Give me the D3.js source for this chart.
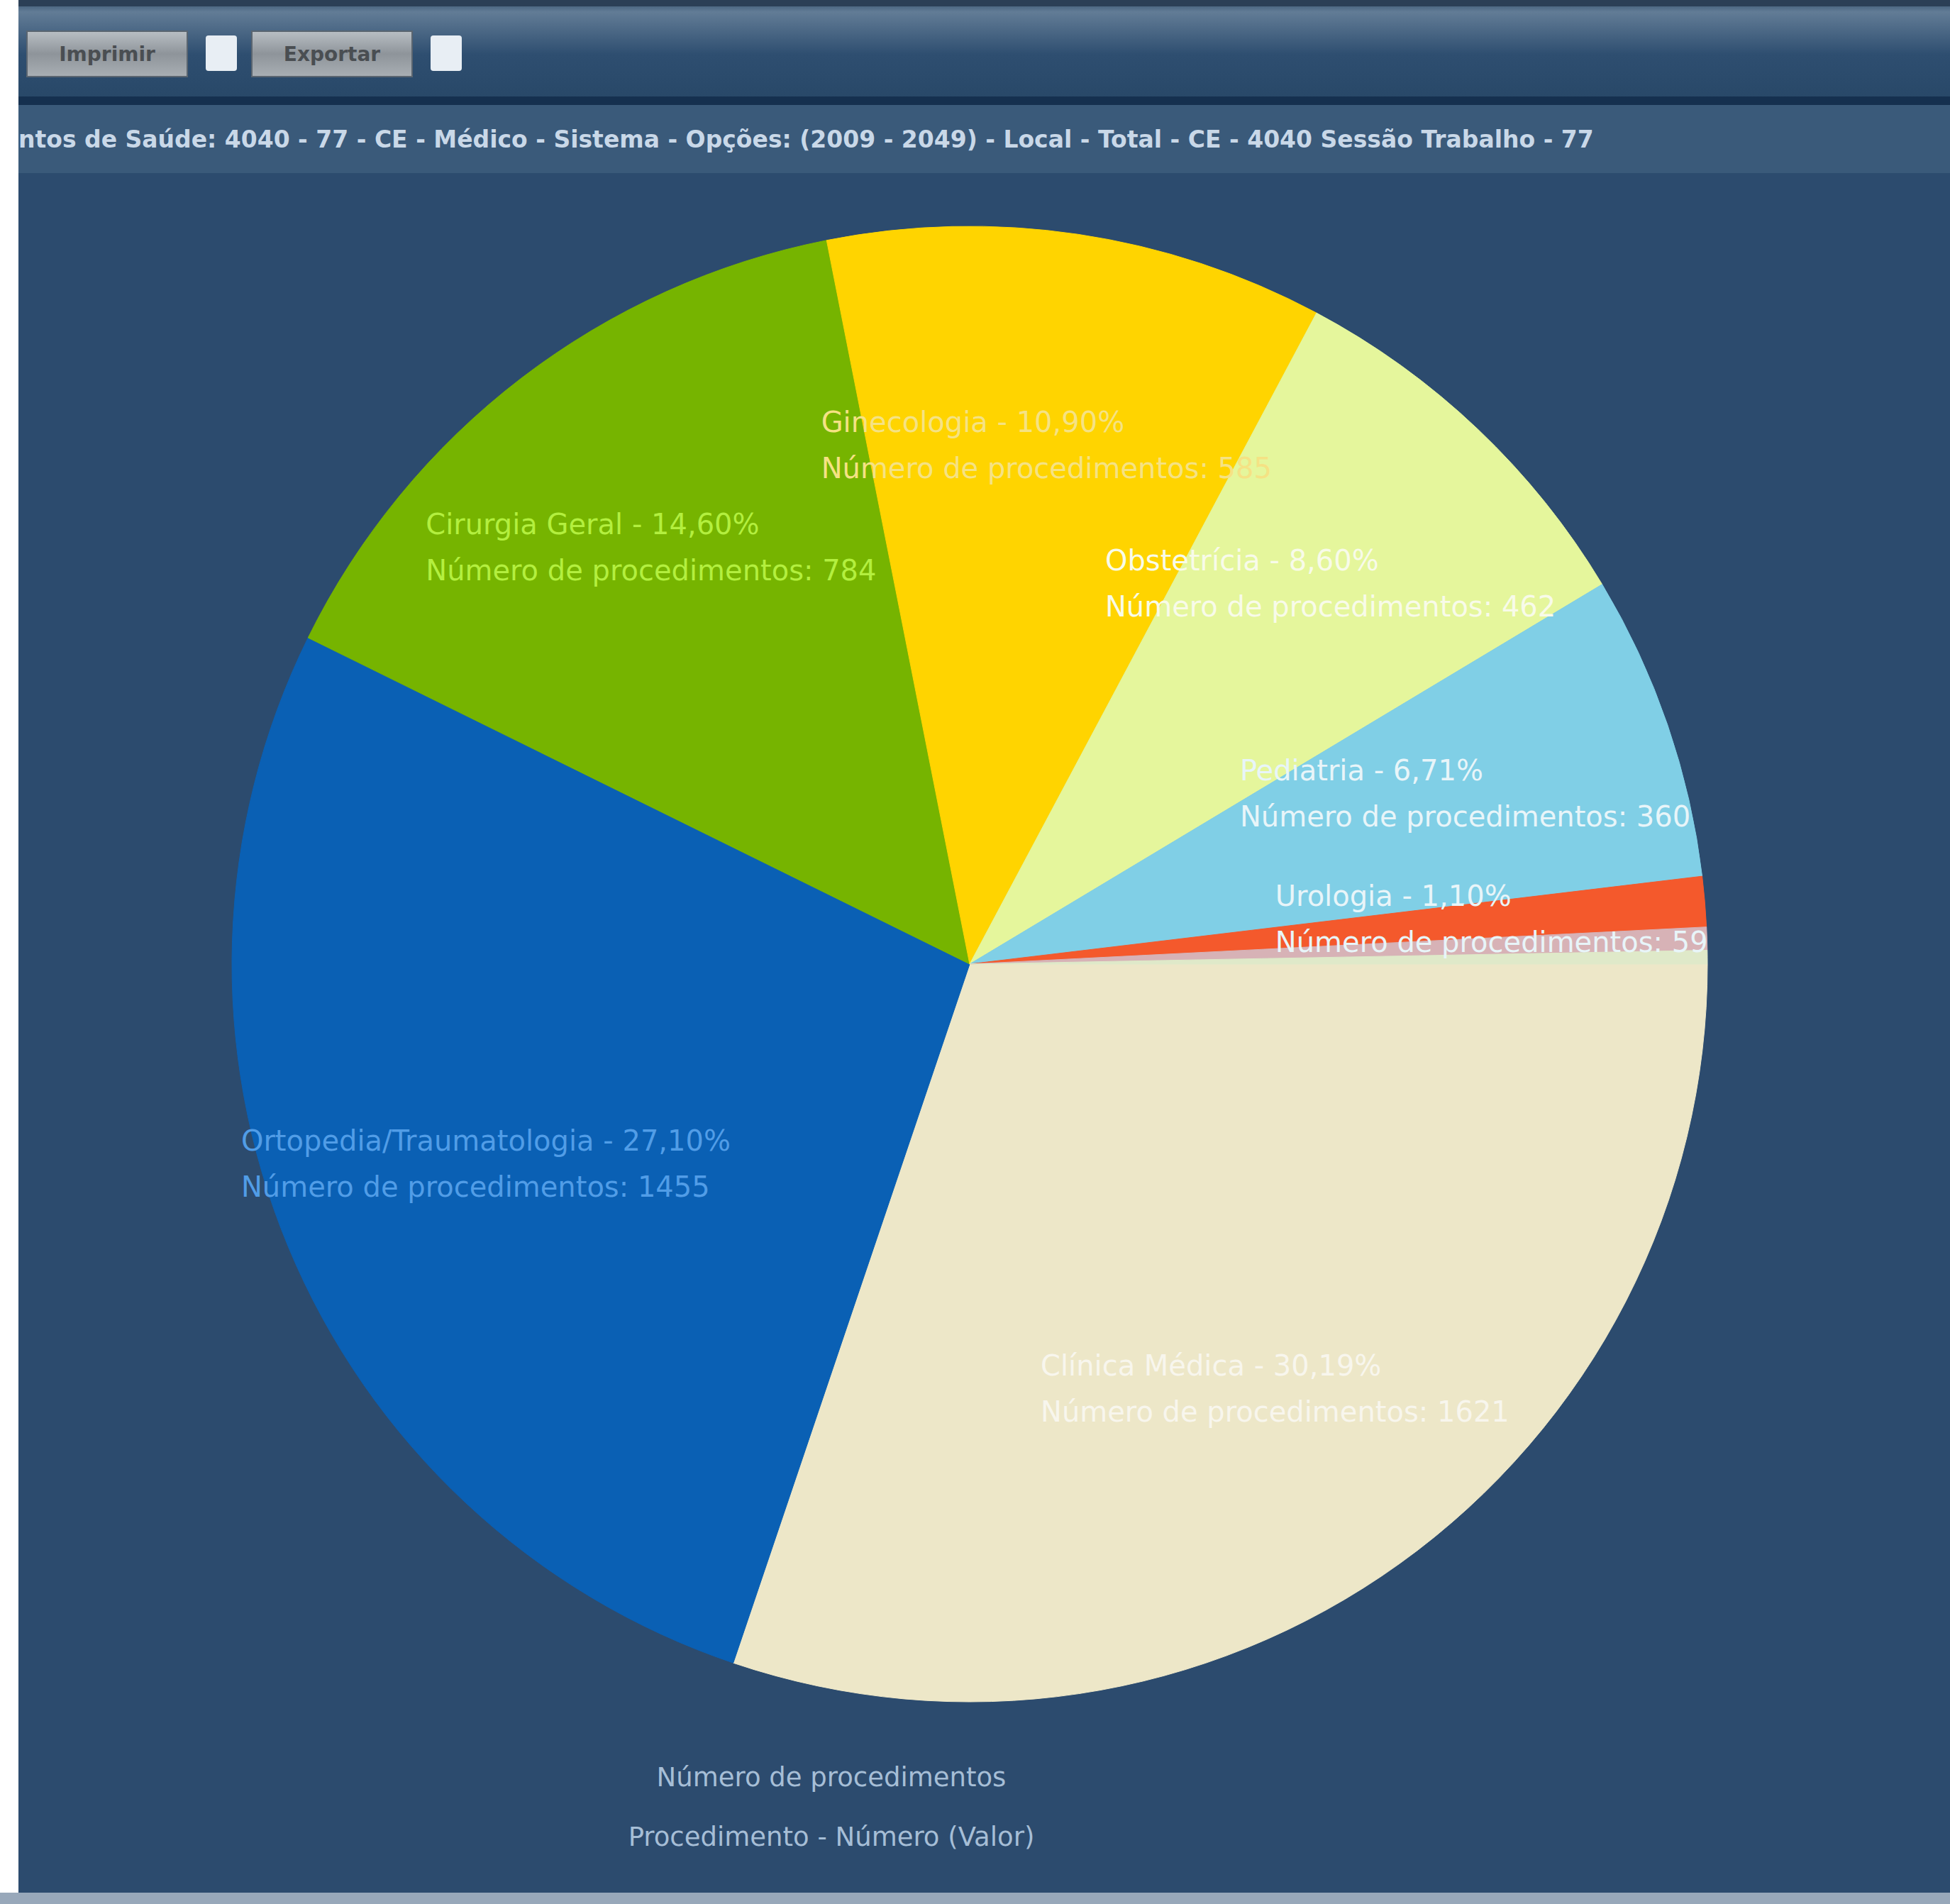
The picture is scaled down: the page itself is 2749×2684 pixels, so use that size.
<!DOCTYPE html>
<html>
<head>
<meta charset="utf-8">
<script src="https://cdn.jsdelivr.net/npm/d3@7"></script>
<style>
  html, body { margin: 0; padding: 0; background: #ffffff; }
  svg { display: block; }
</style>
</head>
<body>
<svg id="chart" width="2749" height="2684"></svg>
<script>
// Procedure groups and their counts, in drawing order (clockwise from 3 o'clock)
const categories = [
  "Clínica Médica",
  "Ortopedia/Traumatologia",
  "Cirurgia Geral",
  "Ginecologia",
  "Obstetrícia",
  "Pediatria",
  "Urologia",
  "Oftalmologia",
  "Outros"
];
const counts = [1621, 1455, 784, 585, 462, 360, 59, 27, 16];
const sliceColors = ["#ede7c8", "#0a60b4", "#76b400", "#ffd400", "#e5f69c", "#80cfe6", "#f4592c", "#d7b2b6", "#dfe9c9"];
const labelled = [true, true, true, true, true, true, true, false, false];

const titleText = "ntos de Saúde: 4040 - 77 - CE - Médico - Sistema - Opções: (2009 - 2049) - Local - Total - CE - 4040 Sessão Trabalho - 77";
const buttonLabels = ["Imprimir", "Exportar"];
const footerLines = ["Número de procedimentos", "Procedimento - Número (Valor)"];

const W = 2749, H = 2684;
const svg = d3.select("#chart");
const defs = svg.append("defs");

// page frame
svg.append("rect").attr("x", 0).attr("y", 0).attr("width", W).attr("height", H).attr("fill", "#ffffff");
svg.append("rect").attr("x", 26).attr("y", 0).attr("width", W - 26).attr("height", H).attr("fill", "#2c4b6e");

// toolbar
const tb = defs.append("linearGradient").attr("id", "toolbarGrad").attr("x1", 0).attr("x2", 0).attr("y1", 0).attr("y2", 1);
tb.append("stop").attr("offset", "0").attr("stop-color", "#33506c");
tb.append("stop").attr("offset", "0.12").attr("stop-color", "#627c96");
tb.append("stop").attr("offset", "0.55").attr("stop-color", "#2e4e70");
tb.append("stop").attr("offset", "1").attr("stop-color", "#284868");
svg.append("rect").attr("x", 26).attr("y", 0).attr("width", W - 26).attr("height", 140).attr("fill", "url(#toolbarGrad)");
svg.append("rect").attr("x", 26).attr("y", 0).attr("width", W - 26).attr("height", 9).attr("fill", "#2b3f56");
svg.append("rect").attr("x", 26).attr("y", 136).attr("width", W - 26).attr("height", 12).attr("fill", "#15304f");

const btnGrad = defs.append("linearGradient").attr("id", "btnGrad").attr("x1", 0).attr("x2", 0).attr("y1", 0).attr("y2", 1);
btnGrad.append("stop").attr("offset", "0").attr("stop-color", "#b9bfc4");
btnGrad.append("stop").attr("offset", "0.5").attr("stop-color", "#8e949a");
btnGrad.append("stop").attr("offset", "1").attr("stop-color", "#a9afb4");

const btnX = d3.scaleBand().domain(buttonLabels).range([38, 672]).paddingInner(0);
buttonLabels.forEach(function (b) {
  const x0 = btnX(b);
  svg.append("rect").attr("x", x0).attr("y", 44).attr("width", 226).attr("height", 64)
    .attr("fill", "url(#btnGrad)").attr("stroke", "#5a6570").attr("stroke-width", 2);
  svg.append("text").attr("x", x0 + 113).attr("y", 86).attr("text-anchor", "middle")
    .attr("font-family", "DejaVu Sans").attr("font-size", 28).attr("font-weight", "bold")
    .attr("fill", "#4a4e52").text(b);
  svg.append("rect").attr("x", x0 + 252).attr("y", 50).attr("width", 44).attr("height", 50)
    .attr("rx", 4).attr("fill", "#e8eef4");
});

// title band
svg.append("rect").attr("x", 26).attr("y", 148).attr("width", W - 26).attr("height", 96).attr("fill", "#3a5a7a");
svg.append("text").attr("x", 26).attr("y", 208)
  .attr("font-family", "DejaVu Sans").attr("font-size", 33).attr("font-weight", "bold")
  .attr("fill", "#c9d8e8").text(titleText);

// pie
const cx = 1367, cy = 1359, R = 1040;
const pie = d3.pie().sort(null).value(d => d.value).startAngle(Math.PI / 2).endAngle(Math.PI / 2 + 2 * Math.PI);
const data = categories.map((c, i) => ({ name: c, value: counts[i], color: sliceColors[i], show: labelled[i] }));
const arcs = pie(data);
const total = d3.sum(counts);
const arc = d3.arc().innerRadius(0).outerRadius(R);
const labelArc = d3.arc().innerRadius(R * 0.71).outerRadius(R * 0.71);

const g = svg.append("g").attr("transform", `translate(${cx},${cy})`);
g.selectAll("path.slice").data(arcs).enter().append("path")
  .attr("class", "slice")
  .attr("d", arc)
  .attr("fill", d => d.data.color)
  .attr("stroke", d => d.data.color)
  .attr("stroke-width", 1);

// label text is a lighter tint of its own slice colour
function tint(c) {
  const h = d3.hsl(c);
  h.l = Math.min(0.95, h.l + 0.24);
  h.s = h.s * 0.85;
  return h.formatHex();
}

const fmt = v => d3.format(".2f")(v).replace(".", ",");
const lineGap = 65;
arcs.filter(d => d.data.show).forEach(function (d, i) {
  const [lx, ly] = labelArc.centroid(d);
  const pct = d.data.value / total * 100;
  const lines = [d.data.name + " - " + fmt(pct) + "%", "Número de procedimentos: " + d.data.value];
  // the small slice's label sits over its neighbour, so it takes the neighbour's tint
  const base = d.data.value / total < 0.02 ? sliceColors[5] : d.data.color;
  const lg = g.append("g");
  const texts = lines.map((t, k) => lg.append("text")
    .attr("y", ly - lineGap / 2 + k * lineGap + 13)
    .attr("font-family", "DejaVu Sans").attr("font-size", 40)
    .attr("fill", tint(base)).text(t));
  const maxW = d3.max(texts, t => t.node().getComputedTextLength());
  texts.forEach(t => t.attr("x", lx - maxW / 2));
});

// footer
footerLines.forEach(function (t, k) {
  svg.append("text").attr("x", 1172).attr("y", 2518 + k * 84).attr("text-anchor", "middle")
    .attr("font-family", "DejaVu Sans").attr("font-size", 37)
    .attr("fill", "#a6bed6").text(t);
});

svg.append("rect").attr("x", 0).attr("y", 2668).attr("width", W).attr("height", 16).attr("fill", "#98a8ba");
</script>
</body>
</html>
